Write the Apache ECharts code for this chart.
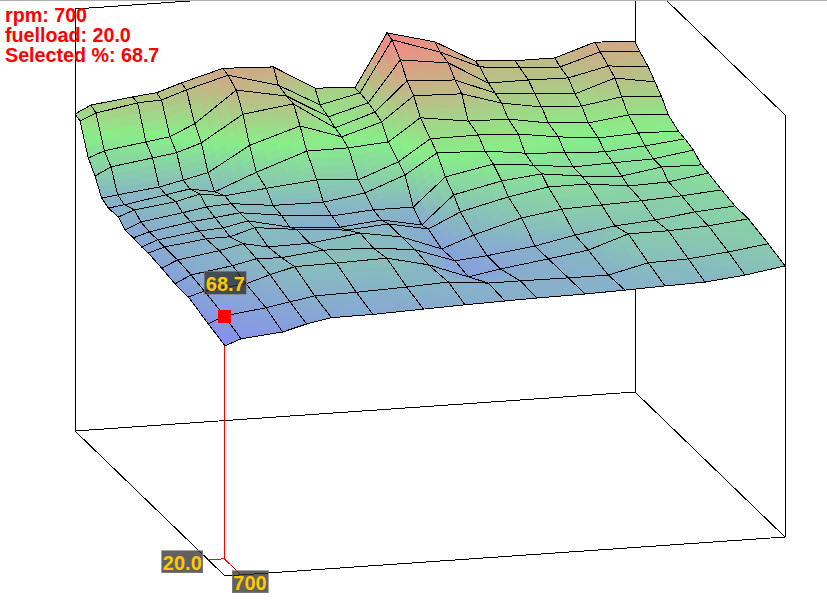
<!DOCTYPE html>
<html><head><meta charset="utf-8">
<style>html,body{margin:0;padding:0;background:#fff}#c{width:827px;height:603px}
#c svg path,#c svg rect,#c svg polygon,#c svg line{shape-rendering:crispEdges}</style>
<script src="https://cdn.jsdelivr.net/npm/echarts@6/dist/echarts.min.js"></script>
</head><body><div id="c"></div>
<script>
// ---- data ----
var rpmBins  = [500,700,1220,1520,1830,2350,2980,3500,4000,4400,5000,5500,6000,6500,7000,7500];
var loadBins = [10,20,32,40,48,56,60,65,70,74,80,84,88,92,97,100];
// one list per rpm bin, values from the lowest to the highest fuelload bin
var veByRpm = [
 [65.1,66.8,68.9,69.0,69.8,70.4,70.3,70.6,70.5,72.4,72.2,73.2,77.6,80.9,89.1,89.7],
 [66.8,68.7,70.3,71.2,71.8,71.8,72.0,72.0,72.5,74.1,72.8,73.8,79.9,82.6,91.0,91.9],
 [67.9,70.2,71.5,73.0,73.6,73.3,73.7,74.0,74.3,75.6,74.8,75.2,81.6,84.3,93.1,93.4],
 [69.7,71.4,73.6,74.5,75.1,73.4,74.1,74.7,75.5,77.3,76.0,76.7,82.6,85.3,93.4,94.1],
 [71.0,72.6,75.4,74.3,73.7,75.5,75.6,75.6,75.9,76.3,74.7,78.3,84.9,88.5,95.8,96.4],
 [71.1,72.8,75.6,75.6,73.9,74.2,73.0,74.1,74.6,77.6,79.4,85.2,92.2,97.2,99.1,99.7],
 [71.6,73.3,76.0,75.2,75.8,73.0,72.0,72.9,74.5,79.0,84.4,89.7,94.1,94.5,95.3,99.1],
 [72.0,73.9,73.3,73.9,73.9,73.9,73.2,73.8,76.3,78.2,84.5,85.8,86.5,87.8,88.9,92.3],
 [72.3,72.8,69.1,70.0,69.7,71.7,71.0,73.8,80.6,82.5,85.4,89.2,90.2,91.0,91.5,91.6],
 [72.5,72.8,70.7,70.8,73.0,75.9,78.9,81.7,86.2,88.4,91.6,96.0,98.4,102.5,105.9,106.5],
 [72.7,72.7,72.6,72.6,76.9,79.2,81.9,84.4,85.8,88.5,89.7,95.6,97.7,100.7,101.5,103.0],
 [73.0,72.7,74.3,74.9,78.6,81.2,83.1,83.3,84.4,88.0,89.5,92.2,93.2,94.2,96.5,96.8],
 [73.4,75.4,78.1,76.7,79.0,81.3,81.7,82.0,83.7,86.4,87.6,90.3,92.2,94.3,95.4,96.1],
 [73.7,75.7,78.2,77.6,79.4,79.9,80.9,82.4,83.2,85.3,86.8,89.8,91.4,94.1,94.9,96.1],
 [74.9,76.9,78.8,79.1,80.0,80.3,82.7,82.7,84.1,85.9,88.3,91.6,95.1,96.7,98.4,99.8],
 [76.7,78.4,80.0,80.0,80.9,82.0,82.5,84.4,85.3,85.7,87.5,90.8,93.2,95.6,97.6,99.1]
];
var selectedRpm = 700, selectedLoad = 20, selectedVe = 68.7;
var zTop = 119.4;

// ---- view (orthographic box projection) ----
var ORIGIN=[225,576], UX=[560,-39], VX=[-150,-145], ZX=[0,-422];
var rMin=rpmBins[0], rMax=rpmBins[15], lMin=loadBins[0], lMax=loadBins[15];
function project(rpm,load,val){
  var u=(rpm-rMin)/(rMax-rMin), v=(load-lMin)/(lMax-lMin), z=val/zTop;
  return [ORIGIN[0]+u*UX[0]+v*VX[0]+z*ZX[0], ORIGIN[1]+u*UX[1]+v*VX[1]+z*ZX[1]];
}
// ---- colour ----
var C_LOW=[135,140,242], C_MID=[136,238,136], C_HIGH=[247,132,132];
var V_LOW=65, V_HIGH=106.5;
function colorOf(val){
  var t=Math.max(0,Math.min(1,(val-V_LOW)/(V_HIGH-V_LOW)))*2, a,b;
  if(t<1){a=C_LOW;b=C_MID;}else{a=C_MID;b=C_HIGH;t-=1;}
  return 'rgb('+Math.round(a[0]+(b[0]-a[0])*t)+','+Math.round(a[1]+(b[1]-a[1])*t)+','+Math.round(a[2]+(b[2]-a[2])*t)+')';
}
var SUB=4;
var cells=[];
for(var ii=14;ii>=0;ii--)for(var jj=14;jj>=0;jj--)cells.push([ii,jj]);

function renderCell(params,api){
  var i=api.value(0), j=api.value(1);
  function c3(a,b,v){return api.coord(project(rpmBins[a],loadBins[b],v));}
  var p00=c3(i,j,veByRpm[i][j]), p10=c3(i+1,j,veByRpm[i+1][j]),
      p11=c3(i+1,j+1,veByRpm[i+1][j+1]), p01=c3(i,j+1,veByRpm[i][j+1]);
  var v00=veByRpm[i][j],v10=veByRpm[i+1][j],v11=veByRpm[i+1][j+1],v01=veByRpm[i][j+1];
  function bl(a,b,c,d,s,t){return a*(1-s)*(1-t)+b*s*(1-t)+c*s*t+d*(1-s)*t;}
  function pt(s,t){return [bl(p00[0],p10[0],p11[0],p01[0],s,t),bl(p00[1],p10[1],p11[1],p01[1],s,t)];}
  var kids=[];
  for(var a=0;a<SUB;a++)for(var b=0;b<SUB;b++){
    var s0=a/SUB,s1=(a+1)/SUB,t0=b/SUB,t1=(b+1)/SUB;
    var col=colorOf(bl(v00,v10,v11,v01,(s0+s1)/2,(t0+t1)/2));
    kids.push({type:'polygon',silent:true,shape:{points:[pt(s0,t0),pt(s1,t0),pt(s1,t1),pt(s0,t1)]},
      style:{fill:col,stroke:col,lineWidth:1}});
  }
  kids.push({type:'polygon',silent:true,shape:{points:[p00,p10,p11,p01]},
    style:{fill:'none',stroke:'#000',lineWidth:1}});
  return {type:'group',children:kids};
}
function line(a,b,color){
  return {type:'line',silent:true,shape:{x1:a[0],y1:a[1],x2:b[0],y2:b[1]},style:{stroke:color,lineWidth:1}};
}
function renderBox(params,api){
  function c(r,l,z){return api.coord(project(r,l,z));}
  var f0=c(rMin,lMin,0),f1=c(rMax,lMin,0),f2=c(rMax,lMax,0),f3=c(rMin,lMax,0),
      t1=c(rMax,lMin,zTop),t2=c(rMax,lMax,zTop),t3=c(rMin,lMax,zTop);
  var i=rpmBins.indexOf(selectedRpm), j=loadBins.indexOf(selectedLoad);
  return {type:'group',children:[
    line(f0,f1,'#000'),line(f1,f2,'#000'),line(f2,f3,'#000'),line(f3,f0,'#000'),
    line(f1,t1,'#000'),line(f2,t2,'#000'),line(f3,t3,'#000'),
    line(t1,t2,'#000'),line(t2,t3,'#000'),
    line(c(selectedRpm,selectedLoad,0),c(selectedRpm,selectedLoad,veByRpm[i][j]),'#ff0000')
  ]};
}
function badge(cx,cy,w,h,txt){
  return [
    {type:'rect',silent:true,shape:{x:cx-w/2,y:cy-h/2,width:w,height:h},
     style:{fill:'rgba(44,44,44,0.75)',stroke:'rgba(130,130,130,0.7)',lineWidth:1}},
    {type:'text',silent:true,x:cx,y:cy+1,style:{text:txt,fill:'#ffc800',font:'bold 20px "Liberation Sans"',align:'center',verticalAlign:'middle'}}
  ];
}
function renderSel(params,api){
  var i=rpmBins.indexOf(selectedRpm), j=loadBins.indexOf(selectedLoad);
  var top=api.coord(project(selectedRpm,selectedLoad,veByRpm[i][j]));
  var base=api.coord(project(selectedRpm,selectedLoad,0));
  var toLoadAxis=api.coord(project(rMin,selectedLoad,0));
  var toRpmAxis=api.coord(project(selectedRpm,lMin,0));
  var kids=[line(base,toLoadAxis,'#ff0000'),line(base,toRpmAxis,'#ff0000'),
    {type:'rect',silent:true,shape:{x:top[0]-6,y:top[1]-6,width:13,height:13},style:{fill:'#ff0000'}}];
  kids=kids.concat(badge(top[0]+1,top[1]-33,42,23,selectedVe.toFixed(1)));
  kids=kids.concat(badge(toLoadAxis[0]-26,toLoadAxis[1]+2,41,22,selectedLoad.toFixed(1)));
  kids=kids.concat(badge(toRpmAxis[0]+9,toRpmAxis[1]+7,36,22,String(selectedRpm)));
  return {type:'group',children:kids};
}
var chart=echarts.init(document.getElementById('c'),null,{renderer:'svg',width:827,height:603});
chart.setOption({
  animation:false,
  backgroundColor:'#fff',
  grid:{left:0,right:0,top:0,bottom:0},
  xAxis:{type:'value',min:0,max:827,show:false},
  yAxis:{type:'value',min:0,max:603,inverse:true,show:false},
  tooltip:{show:false},
  graphic:[
    {type:'rect',silent:true,z:50,shape:{x:0,y:0,width:827,height:1},style:{fill:'#b0b0b0'}},
    {type:'text',silent:true,z:60,x:5,y:5,style:{text:'rpm: '+selectedRpm,fill:'#ff0000',font:'bold 19.7px "Liberation Sans"'}},
    {type:'text',silent:true,z:60,x:5,y:25,style:{text:'fuelload: '+selectedLoad.toFixed(1),fill:'#ff0000',font:'bold 19.7px "Liberation Sans"'}},
    {type:'text',silent:true,z:60,x:5,y:45,style:{text:'Selected %: '+selectedVe.toFixed(1),fill:'#ff0000',font:'bold 19.7px "Liberation Sans"'}}
  ],
  series:[
    {type:'custom',coordinateSystem:'cartesian2d',clip:false,z:1,silent:true,data:[[0,0]],renderItem:renderBox,encode:{x:0,y:1}},
    {type:'custom',coordinateSystem:'cartesian2d',clip:false,z:2,silent:true,data:cells,renderItem:renderCell,encode:{x:0,y:1},progressive:0},
    {type:'custom',coordinateSystem:'cartesian2d',clip:false,z:3,silent:true,data:[[0,0]],renderItem:renderSel,encode:{x:0,y:1}}
  ]
});
</script></body></html>
